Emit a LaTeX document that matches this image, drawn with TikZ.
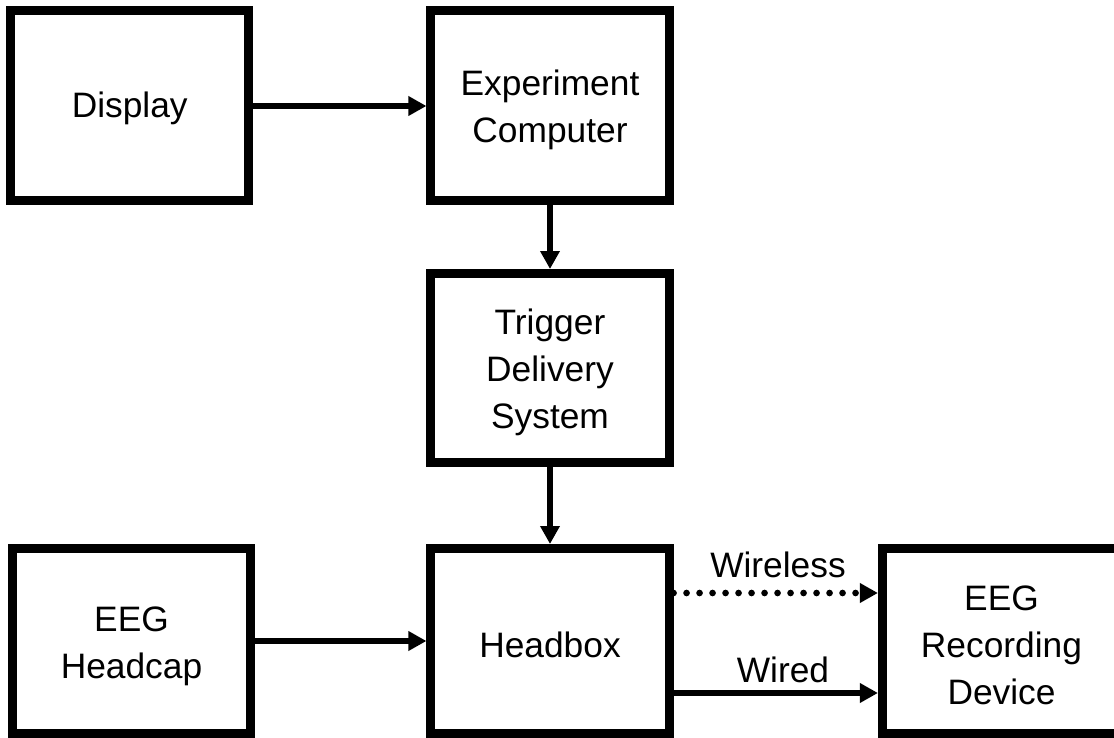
\documentclass[tikz,border=0pt]{standalone}
\usepackage{fontspec}
\setmainfont{Liberation Sans}
\usetikzlibrary{arrows.meta}

\tikzset{
  blockbox/.style={draw=black, line width=6.75pt, fill=white, inner sep=0pt},
  topbox/.style={blockbox, minimum width=178.6pt, minimum height=142.5pt},
  midbox/.style={blockbox, minimum width=178.6pt, minimum height=141.75pt},
  lowbox/.style={blockbox, minimum width=178.6pt, minimum height=138.75pt},
  boxtext/.style={align=center, inner sep=0pt, yshift=-3pt,
    font=\fontsize{26.5}{35.25}\selectfont},
  flow/.style={line width=5pt, -{Triangle[length=13.5pt,width=14pt]}},
  linklabel/.style={inner sep=0pt, font=\fontsize{26.5}{35.25}\selectfont}
}

\begin{document}
\begin{tikzpicture}[x=0.75pt, y=-0.75pt]
  \useasboundingbox (0,0) rectangle (1114,738);
  \clip (0,0) rectangle (1114,738);

  % blocks
  \node[topbox] (disp) at (129.75,106) {};
  \node[topbox] (comp) at (550,106) {};
  \node[midbox] (trig) at (550,368) {};
  \node[lowbox] (cap)  at (131.5,641) {};
  \node[lowbox] (hbox) at (550,641) {};
  \node[lowbox] (rec)  at (1001.5,641) {};

  % block captions
  \node[boxtext, yshift=1.5pt] (disptxt) at (disp) {Display};
  \node[boxtext] (comptxt) at (comp) {Experiment\\Computer};
  \node[boxtext] (trigtxt) at (trig) {Trigger\\Delivery\\System};
  \node[boxtext, yshift=-1pt] (captxt) at (cap) {EEG\\Headcap};
  \node[boxtext] (hboxtxt) at (hbox) {Headbox};
  \node[boxtext] (rectxt) at (rec) {EEG\\Recording\\Device};

  % signal path
  \draw[flow] (disp.east) -- (comp.west);
  \draw[flow] (comp.south) -- (trig.north);
  \draw[flow] (trig.south) -- (hbox.north);
  \draw[flow] (cap.east) -- (hbox.west);

  % links to the recorder
  \coordinate (wlfrom) at ([yshift=36pt]hbox.east);
  \coordinate (wdfrom) at ([yshift=-39pt]hbox.east);
  \draw[flow, dash pattern=on 0pt off 9.75pt, line cap=round]
    (wlfrom) -- (wlfrom -| rec.west);
  \draw[flow] (wdfrom) -- (wdfrom -| rec.west);

  \node[linklabel] (wl) at (778,565) {Wireless};
  \node[linklabel] (wd) at (783,670) {Wired};
\end{tikzpicture}
\end{document}
